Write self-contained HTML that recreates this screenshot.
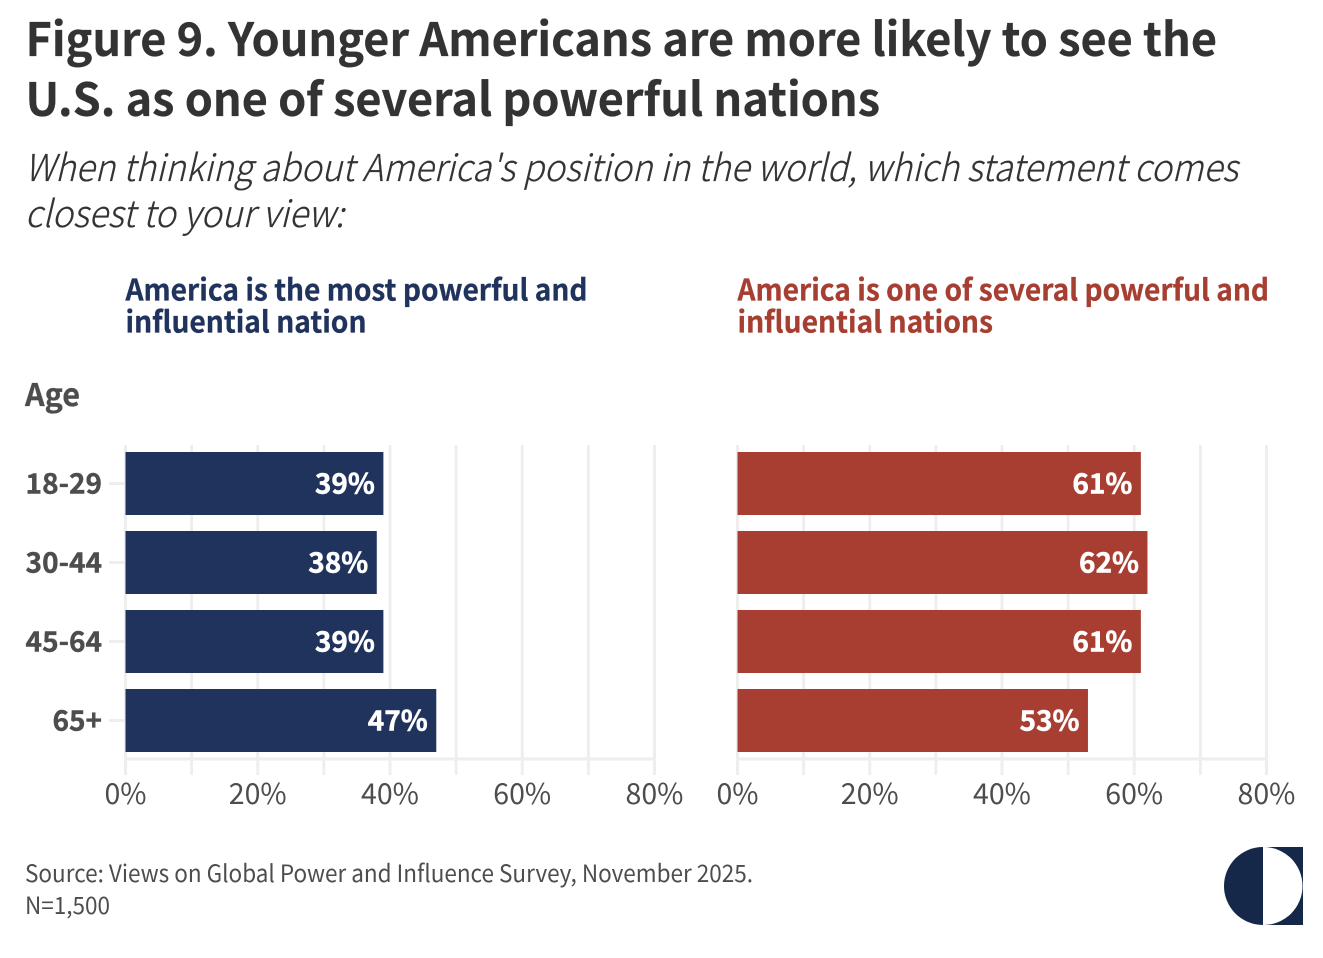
<!DOCTYPE html>
<html lang="en">
<head>
<meta charset="utf-8">
<title>Figure 9</title>
<style>
html,body{margin:0;padding:0;background:#fff;width:1323px;height:958px;overflow:hidden}
svg{display:block}
text{font-family:"Noto Sans CJK JP","Liberation Sans",sans-serif}
.title{font-size:46px;font-weight:700;fill:#333;stroke:#333;stroke-width:.25px}
.sub{font-size:37px;font-style:italic;font-weight:300;fill:#333;stroke:#333;stroke-width:.3px}
.head{font-size:29.5px;font-weight:700;stroke-width:.3px}
.cat{font-size:28px;font-weight:700;fill:#4d4d4d;stroke:#4d4d4d;stroke-width:.4px}
.tick{font-size:28.5px;fill:#4d4d4d}
.val{font-size:28px;font-weight:700;fill:#fff;stroke:#fff;stroke-width:.5px}
.note{font-size:24px;fill:#4d4d4d}
</style>
</head>
<body>
<svg id="chart" xmlns="http://www.w3.org/2000/svg" width="1323" height="958" viewBox="0 0 1323 958">
<text class="title" x="25.5" y="56" textLength="1191.5" lengthAdjust="spacingAndGlyphs">Figure 9. Younger Americans are more likely to see the</text>
<text class="title" x="25.5" y="116" textLength="854.5" lengthAdjust="spacingAndGlyphs">U.S. as one of several powerful nations</text>
<text class="sub" x="25" y="181" textLength="1213" lengthAdjust="spacingAndGlyphs">When thinking about America's position in the world, which statement comes</text>
<text class="sub" x="25" y="227" textLength="319" lengthAdjust="spacingAndGlyphs">closest to your view:</text>
<text class="head" x="125.5" y="300.5" fill="#1f335c" stroke="#1f335c" textLength="462" lengthAdjust="spacingAndGlyphs">America is the most powerful and</text>
<text class="head" x="125.5" y="332.5" fill="#1f335c" stroke="#1f335c" textLength="241" lengthAdjust="spacingAndGlyphs">influential nation</text>
<text class="head" x="737.5" y="300.5" fill="#a63e32" stroke="#a63e32" textLength="531.5" lengthAdjust="spacingAndGlyphs">America is one of several powerful and</text>
<text class="head" x="737.5" y="332.5" fill="#a63e32" stroke="#a63e32" textLength="255.5" lengthAdjust="spacingAndGlyphs">influential nations</text>
<text x="25" y="406" font-size="31" font-weight="700" fill="#4d4d4d" stroke="#4d4d4d" stroke-width=".3" textLength="55" lengthAdjust="spacingAndGlyphs">Age</text>
<g id="plots"></g>
<text class="note" x="25" y="882" textLength="728" lengthAdjust="spacingAndGlyphs">Source: Views on Global Power and Influence Survey, November 2025.</text>
<text class="note" x="25" y="914" textLength="85" lengthAdjust="spacingAndGlyphs">N=1,500</text>
<g>
<rect x="1263" y="847" width="40" height="78" fill="#16284a"></rect>
<circle cx="1263.5" cy="886" r="39" fill="#fff"></circle>
<path d="M1263 847 A39 39 0 0 0 1263 925 Z" fill="#16284a"></path>
</g>
</svg>
<script>
const categories = ['18-29', '30-44', '45-64', '65+'];
const mostPowerful = [39, 38, 39, 47];
const oneOfSeveral = [61, 62, 61, 53];
const tickValues = [0, 10, 20, 30, 40, 50, 60, 70, 80];
const tickLabels = ['0%', '', '20%', '', '40%', '', '60%', '', '80%'];

const NS = 'http://www.w3.org/2000/svg';
const root = document.getElementById('plots');
const PX_PER_UNIT = 529 / 80;
const ROW_TOP = 452;
const ROW_STEP = 79;
const BAR_H = 63;
const AXIS_Y = 759;
const GRID = '#eeeeee';

function make(tag, attrs, parent, text) {
  const el = document.createElementNS(NS, tag);
  for (const k in attrs) el.setAttribute(k, attrs[k]);
  if (text !== undefined) el.textContent = text;
  parent.appendChild(el);
  return el;
}

function drawPanel(panelName, x0, values, color, showCats) {
  const xScale = v => x0 + v * PX_PER_UNIT;
  const yScale = i => ROW_TOP + i * ROW_STEP;
  const g = make('g', {}, root);
  
  

  tickValues.forEach((t, i) => {
    const line = make('line', {x1: xScale(t), x2: xScale(t), y1: 445, y2: 775, stroke: GRID, 'stroke-width': 2.9}, g);
    
    
    if (tickLabels[i]) {
      const lab = make('text', {class: 'tick', x: xScale(t), y: 804, 'text-anchor': 'middle'}, g, tickLabels[i]);
      
      
    }
  });

  const axis = make('line', {x1: x0 - 1, x2: xScale(80) + 1, y1: AXIS_Y, y2: AXIS_Y, stroke: GRID, 'stroke-width': 2.9}, g);
  
  

  values.forEach((v, i) => {
    const y = yScale(i);
    if (showCats) {
      const tick = make('line', {x1: 109, x2: x0, y1: y + BAR_H / 2, y2: y + BAR_H / 2, stroke: GRID, 'stroke-width': 2.9}, g);
      
      
      const cat = make('text', {class: 'cat', x: 102, y: y + BAR_H / 2 + 10, 'text-anchor': 'end'}, g, categories[i]);
      
      
    }
    const bar = make('rect', {x: x0, y: y, width: v * PX_PER_UNIT, height: BAR_H, fill: color}, g);
    
    
    const val = make('text', {class: 'val', x: xScale(v) - 8.5, y: y + BAR_H / 2 + 10, 'text-anchor': 'end'}, g, v + '%');
    
    
  });
}

drawPanel('most-powerful', 125.5, mostPowerful, '#1f335c', true);
drawPanel('one-of-several', 737.5, oneOfSeveral, '#a83e32', false);
</script>
</body>
</html>
